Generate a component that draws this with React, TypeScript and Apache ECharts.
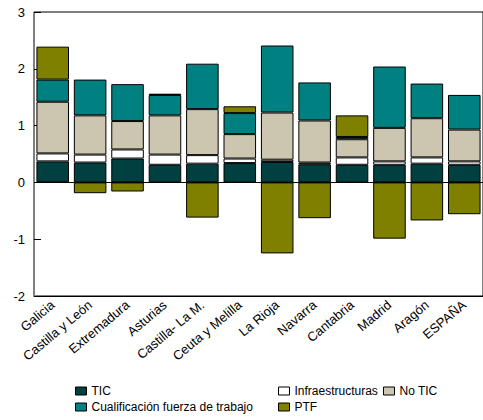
import React, { useEffect, useRef } from "react";
import * as echarts from "echarts";

const categories = [
  "Galicia", "Castilla y León", "Extremadura", "Asturias", "Castilla- La M.",
  "Ceuta y Melilla", "La Rioja", "Navarra", "Cantabria", "Madrid", "Aragón", "ESPAÑA",
];
const tic = [0.37, 0.35, 0.42, 0.31, 0.33, 0.34, 0.36, 0.32, 0.31, 0.31, 0.33, 0.31];
const infraestructuras = [0.14, 0.14, 0.16, 0.18, 0.15, 0.08, 0.04, 0.03, 0.13, 0.06, 0.11, 0.06];
const noTic = [0.91, 0.69, 0.5, 0.69, 0.81, 0.43, 0.83, 0.74, 0.32, 0.59, 0.69, 0.56];
const cualificacion = [0.39, 0.63, 0.65, 0.36, 0.8, 0.37, 1.18, 0.67, 0.04, 1.08, 0.61, 0.61];
const ptf = [0.58, -0.19, -0.16, 0.02, -0.62, 0.12, -1.25, -0.63, 0.38, -0.99, -0.67, -0.56];

const seriesNames = ["TIC", "Infraestructuras", "No TIC", "Cualificación fuerza de trabajo", "PTF"];
const seriesColors = ["#004040", "#ffffff", "#ccc5b0", "#008080", "#808000"];
const seriesData = [tic, infraestructuras, noTic, cualificacion, ptf];

const FONT = "Arial, 'Liberation Sans', sans-serif";

export default function App() {
  const ref = useRef<HTMLDivElement>(null);
  useEffect(() => {
    if (!ref.current) return;
    const chart = echarts.init(ref.current, null, { renderer: "svg" });
    const legendPos = [
      { left: 75, top: 385 },
      { left: 278, top: 385 },
      { left: 383, top: 385 },
      { left: 75, top: 401 },
      { left: 278, top: 401 },
    ];
    chart.setOption({
      animation: false,
      grid: {
        left: 34, right: -6, top: 12, bottom: 124,
        show: true, borderColor: "#000", borderWidth: 1,
      },
      legend: seriesNames.map((n, i) => ({
        data: [n],
        left: legendPos[i].left,
        top: legendPos[i].top,
        icon: "rect",
        itemWidth: 11,
        itemHeight: 8,
        padding: 0,
        itemStyle: { borderColor: "#000", borderWidth: 1 },
        textStyle: { fontFamily: FONT, fontSize: 12, color: "#000" },
        selectedMode: false,
      })),
      xAxis: {
        type: "category",
        data: categories,
        axisLine: { onZero: false, lineStyle: { color: "#000" } },
        axisTick: { show: false },
        axisLabel: {
          interval: 0, rotate: 40, fontSize: 13, fontFamily: FONT, color: "#000", margin: 7,
        },
      },
      yAxis: {
        type: "value",
        min: -2, max: 3, interval: 1,
        axisLine: { show: true, lineStyle: { color: "#808080" } },
        axisTick: { show: true, inside: true, length: 7, lineStyle: { color: "#000" } },
        splitLine: { show: false },
        axisLabel: { fontSize: 13, fontFamily: FONT, color: "#000", margin: 9 },
      },
      series: seriesNames.map((n, i) => ({
        name: n,
        type: "bar",
        stack: "total",
        data: seriesData[i],
        barCategoryGap: "13%",
        itemStyle: { color: seriesColors[i], borderColor: "#000", borderWidth: 1 },
        ...(i === 0
          ? {
              markLine: {
                silent: true,
                symbol: "none",
                label: { show: false },
                lineStyle: { color: "#000", type: "solid", width: 1 },
                data: [{ yAxis: 0 }],
              },
            }
          : {}),
      })),
    });
    return () => chart.dispose();
  }, []);
  return (
    <div
      ref={ref}
      style={{ position: "absolute", left: 0, top: 0, width: 483, height: 420 }}
    />
  );
}
